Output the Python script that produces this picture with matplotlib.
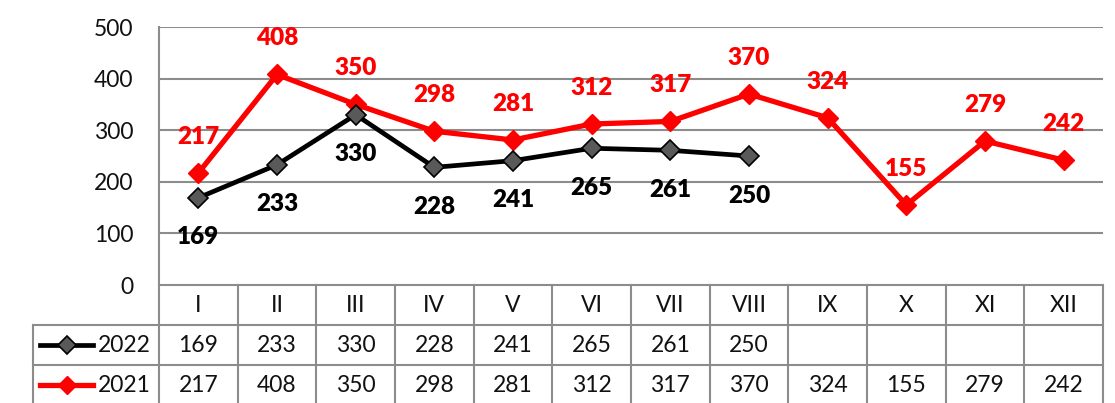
import matplotlib.pyplot as plt
import numpy as np

months = ["I", "II", "III", "IV", "V", "VI", "VII", "VIII", "IX", "X", "XI", "XII"]
v2022 = [169, 233, 330, 228, 241, 265, 261, 250]
v2021 = [217, 408, 350, 298, 281, 312, 317, 370, 324, 155, 279, 242]
yticks = [0, 100, 200, 300, 400, 500]

plt.rcParams['font.family'] = ['Lato', 'DejaVu Sans']
W, H = 1115, 403
fig = plt.figure(figsize=(W / 100, H / 100), dpi=100)

# plot area in pixels
px_l, px_r, px_t, px_b = 159, 1103, 27, 285
ax = fig.add_axes([px_l / W, (H - px_b) / H, (px_r - px_l) / W, (px_b - px_t) / H])
ax.set_xlim(-0.5, 11.5)
ax.set_ylim(0, 500)

grid_c = '#8c8c8c'
fs = 16.5
for v in yticks[1:]:
    ax.axhline(v, color=grid_c, lw=1.5, zorder=0)
for s in ['top', 'right', 'bottom']:
    ax.spines[s].set_visible(False)
ax.spines['left'].set_color(grid_c)
ax.spines['left'].set_linewidth(1.5)
ax.set_xticks([])
ax.set_yticks(yticks)
ax.tick_params(axis='y', length=0, pad=18.5, labelsize=fs, colors='#111111')

x21 = np.arange(len(v2021))
x22 = np.arange(len(v2022))
ax.plot(x21, v2021, color='#ff0000', lw=3.8, marker='D', ms=10,
        mfc='#ff0000', mec='#ff0000', zorder=3)
ax.plot(x22, v2022, color='black', lw=3.4, marker='D', ms=10,
        mfc='#595959', mec='black', mew=1.2, zorder=4)

for x, v in zip(x21, v2021):
    ax.annotate(str(v), (x, v), xytext=(0, 26), textcoords='offset points',
                ha='center', va='center', color='#ff0000', fontsize=17.5,
                fontweight=800, annotation_clip=False)
for x, v in zip(x22, v2022):
    ax.annotate(str(v), (x, v), xytext=(0, -28.5), textcoords='offset points',
                ha='center', va='center', color='black', fontsize=17.5,
                fontweight=800, annotation_clip=False)

# data table below the plot, in axes units for y
ph = px_b - px_t
row = 40 / ph
lw_t = 1.5
xt = ax.get_xaxis_transform()


def to_x(p):
    return (p - px_l) / (px_r - px_l) * 12 - 0.5


x_left = to_x(33)

# horizontal lines
for i, y0 in enumerate([0, -row, -2 * row]):
    xs = -0.5 if i == 0 else x_left
    ax.plot([xs, 11.5], [y0, y0], transform=xt, color=grid_c, lw=lw_t, clip_on=False)
# vertical lines between months
for k in range(13):
    ax.plot([k - 0.5, k - 0.5], [0, -3 * row], transform=xt,
            color=grid_c, lw=lw_t, clip_on=False)
ax.plot([x_left, x_left], [-row, -3 * row], transform=xt,
        color=grid_c, lw=lw_t, clip_on=False)

for k, m in enumerate(months):
    ax.text(k, -0.5 * row, m, transform=xt, ha='center', va='center',
            fontsize=fs, color='#111111')
for k, v in enumerate(v2022):
    ax.text(k, -1.5 * row, str(v), transform=xt, ha='center', va='center',
            fontsize=fs, color='#111111')
for k, v in enumerate(v2021):
    ax.text(k, -2.5 * row, str(v), transform=xt, ha='center', va='center',
            fontsize=fs, color='#111111')

# legend keys in the row headers
lx = [to_x(40), to_x(93)]
ax.plot(lx, [-1.5 * row] * 2, transform=xt, color='black', lw=3.4, clip_on=False)
ax.plot([np.mean(lx)], [-1.5 * row], transform=xt, marker='D', ms=9,
        mfc='#595959', mec='black', mew=1.2, clip_on=False)
ax.plot(lx, [-2.5 * row] * 2, transform=xt, color='#ff0000', lw=3.8, clip_on=False)
ax.plot([np.mean(lx)], [-2.5 * row], transform=xt, marker='D', ms=9,
        mfc='#ff0000', mec='#ff0000', clip_on=False)
ax.text(to_x(151), -1.5 * row, "2022", transform=xt, ha='right', va='center',
        fontsize=fs, color='#111111')
ax.text(to_x(151), -2.5 * row, "2021", transform=xt, ha='right', va='center',
        fontsize=fs, color='#111111')

fig.savefig('out.png', dpi=100)
